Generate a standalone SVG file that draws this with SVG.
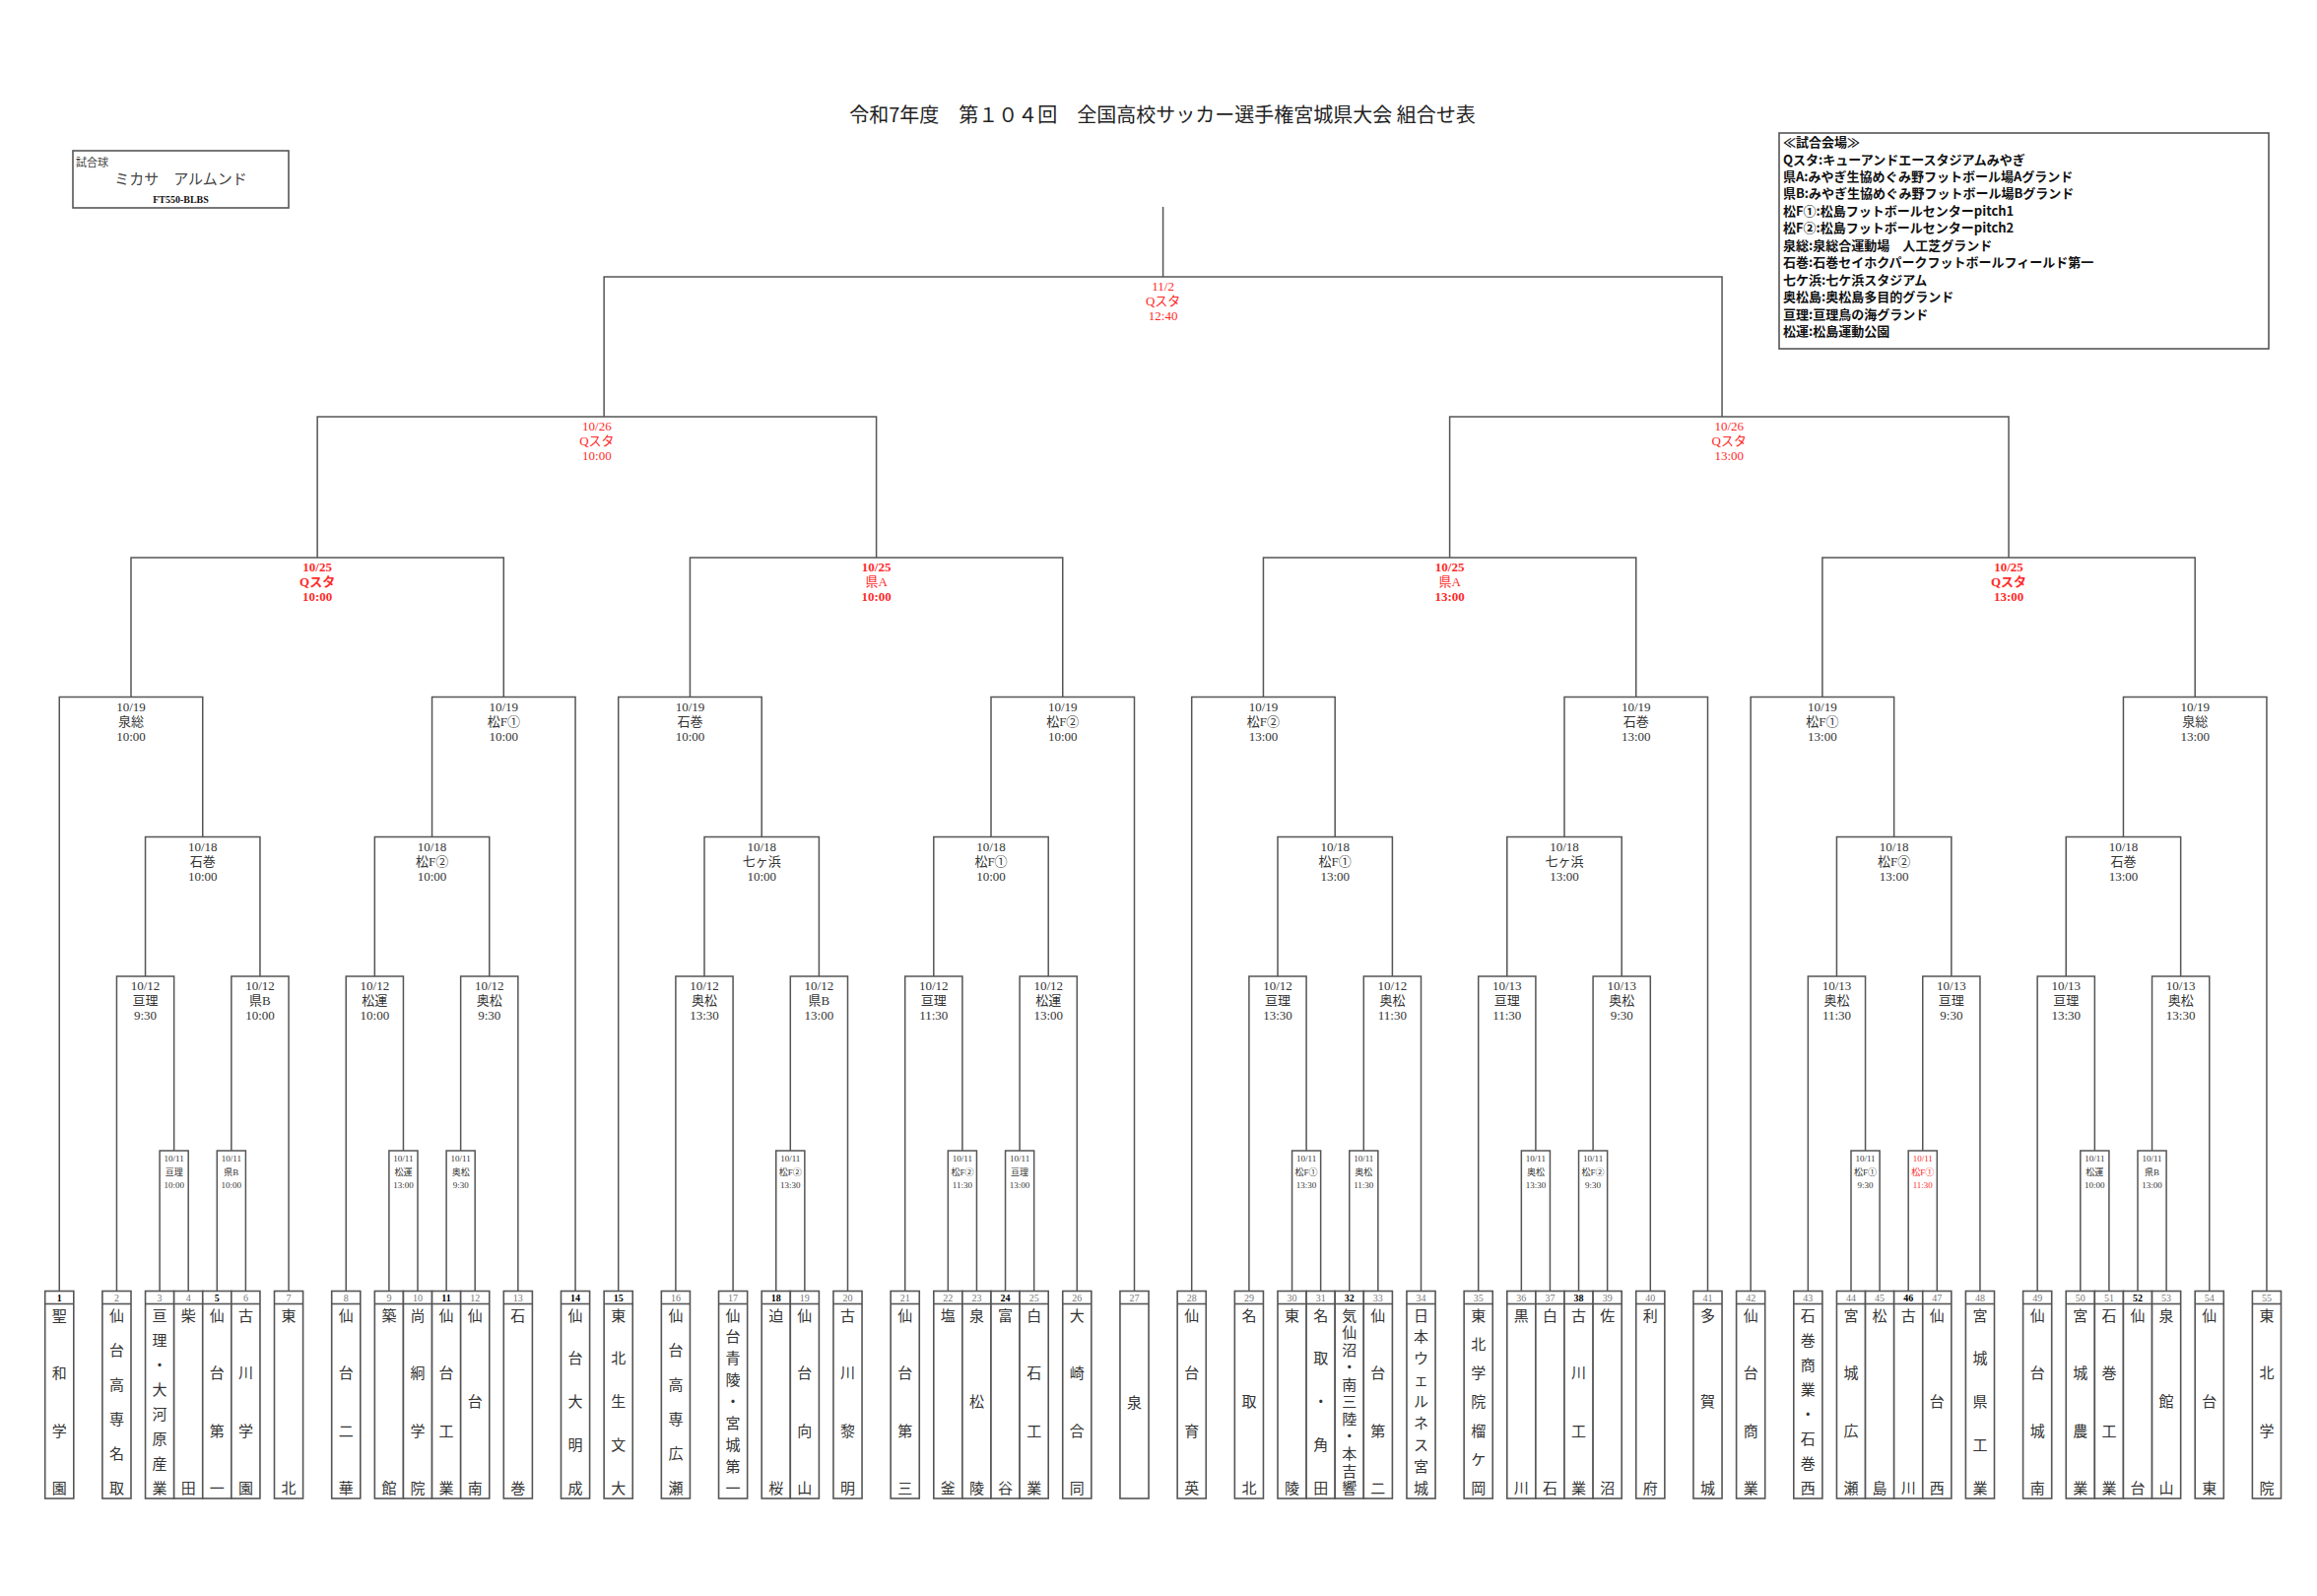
<svg xmlns="http://www.w3.org/2000/svg" xmlns:xlink="http://www.w3.org/1999/xlink" width="2352" height="1620" viewBox="0 0 2352 1620">
<style>
.ln{fill:none;stroke:#555;stroke-width:1.5}
.bx{fill:#fff;stroke:#555;stroke-width:1.6}
.lb{font-family:"Liberation Serif","Noto Sans CJK JP",serif;font-size:13px;fill:#333;text-anchor:middle}
.sm{font-size:9px}
.red{fill:#ff2a2a}
.b{font-weight:bold}
.tn{font-family:"Noto Sans CJK JP",sans-serif;font-size:15px;fill:#333;text-anchor:middle}
.num{font-family:"Liberation Serif",serif;font-size:10px;fill:#777;text-anchor:middle}
.nb{font-weight:bold;fill:#000}
.lg{font-family:"Noto Sans CJK JP",sans-serif;font-size:13px;font-weight:bold;fill:#111}
</style>
<defs>
<g id="tb"><rect x="0" y="1310.5" width="29.1" height="210.5" class="bx"/><line x1="0" y1="1323.5" x2="29.1" y2="1323.5" class="bx"/></g>
</defs>
<rect width="2352" height="1620" fill="#fff"/>
<g id="title"><text x="1180" y="124" style="font-family:'Noto Sans CJK JP',sans-serif;font-size:20px;fill:#222;text-anchor:middle">令和7年度　第１０４回　全国高校サッカー選手権宮城県大会 組合せ表</text></g>
<g id="ball">
<rect x="74" y="153" width="219" height="58" fill="#fff" stroke="#555" stroke-width="1.6"/>
<text x="77" y="169" style="font-family:'Noto Sans CJK JP',sans-serif;font-size:11px;fill:#444">試合球</text>
<text x="183.5" y="187" style="font-family:'Noto Sans CJK JP',sans-serif;font-size:15px;fill:#444;text-anchor:middle">ミカサ　アルムンド</text>
<text x="183.5" y="206" style="font-family:'Liberation Serif',serif;font-size:10px;font-weight:bold;fill:#111;text-anchor:middle">FT550-BLBS</text>
</g>
<g id="venues">
<rect x="1806" y="135" width="497" height="219" fill="#fff" stroke="#555" stroke-width="1.6"/>
<text class="lg" x="1810" y="149">≪試合会場≫</text>
<text class="lg" x="1810" y="166.5">Qスタ:キューアンドエースタジアムみやぎ</text>
<text class="lg" x="1810" y="184">県A:みやぎ生協めぐみ野フットボール場Aグランド</text>
<text class="lg" x="1810" y="201.4">県B:みやぎ生協めぐみ野フットボール場Bグランド</text>
<text class="lg" x="1810" y="218.9">松F①:松島フットボールセンターpitch1</text>
<text class="lg" x="1810" y="236.3">松F②:松島フットボールセンターpitch2</text>
<text class="lg" x="1810" y="253.8">泉総:泉総合運動場　人工芝グランド</text>
<text class="lg" x="1810" y="271.2">石巻:石巻セイホクパークフットボールフィールド第一</text>
<text class="lg" x="1810" y="288.7">七ケ浜:七ケ浜スタジアム</text>
<text class="lg" x="1810" y="306.1">奥松島:奥松島多目的グランド</text>
<text class="lg" x="1810" y="323.6">亘理:亘理鳥の海グランド</text>
<text class="lg" x="1810" y="341">松運:松島運動公園</text>
</g>
<g id="connectors" class="ln">
<path d="M1180.6 281V210"/>
<path d="M613.15 423V281H1748.05V423"/>
<path d="M322.15 566V423H889.6V566"/>
<path d="M1471.6 566V423H2039.05V566"/>
<path d="M133 707.5V566H511.3V707.5"/>
<path d="M700.45 707.5V566H1078.75V707.5"/>
<path d="M1282.45 707.5V566H1660.75V707.5"/>
<path d="M1849.9 707.5V566H2228.2V707.5"/>
<path d="M162.1 1310.5V1168H191.2V1310.5"/>
<path d="M220.3 1310.5V1168H249.4V1310.5"/>
<path d="M118.45 1310.5V991H176.65V1168"/>
<path d="M234.85 1168V991H293.05V1310.5"/>
<path d="M147.55 991V849.5H263.95V991"/>
<path d="M60.25 1310.5V707.5H205.75V849.5"/>
<path d="M394.9 1310.5V1168H424V1310.5"/>
<path d="M453.1 1310.5V1168H482.2V1310.5"/>
<path d="M351.25 1310.5V991H409.45V1168"/>
<path d="M467.65 1168V991H525.85V1310.5"/>
<path d="M380.35 991V849.5H496.75V991"/>
<path d="M438.55 849.5V707.5H584.05V1310.5"/>
<path d="M787.75 1310.5V1168H816.85V1310.5"/>
<path d="M685.9 1310.5V991H744.1V1310.5"/>
<path d="M802.3 1168V991H860.5V1310.5"/>
<path d="M715 991V849.5H831.4V991"/>
<path d="M627.7 1310.5V707.5H773.2V849.5"/>
<path d="M962.35 1310.5V1168H991.45V1310.5"/>
<path d="M1020.55 1310.5V1168H1049.65V1310.5"/>
<path d="M918.7 1310.5V991H976.9V1168"/>
<path d="M1035.1 1168V991H1093.3V1310.5"/>
<path d="M947.8 991V849.5H1064.2V991"/>
<path d="M1006 849.5V707.5H1151.5V1310.5"/>
<path d="M1311.55 1310.5V1168H1340.65V1310.5"/>
<path d="M1369.75 1310.5V1168H1398.85V1310.5"/>
<path d="M1267.9 1310.5V991H1326.1V1168"/>
<path d="M1384.3 1168V991H1442.5V1310.5"/>
<path d="M1297 991V849.5H1413.4V991"/>
<path d="M1209.7 1310.5V707.5H1355.2V849.5"/>
<path d="M1544.35 1310.5V1168H1573.45V1310.5"/>
<path d="M1602.55 1310.5V1168H1631.65V1310.5"/>
<path d="M1500.7 1310.5V991H1558.9V1168"/>
<path d="M1617.1 1168V991H1675.3V1310.5"/>
<path d="M1529.8 991V849.5H1646.2V991"/>
<path d="M1588 849.5V707.5H1733.5V1310.5"/>
<path d="M1879 1310.5V1168H1908.1V1310.5"/>
<path d="M1937.2 1310.5V1168H1966.3V1310.5"/>
<path d="M1835.35 1310.5V991H1893.55V1168"/>
<path d="M1951.75 1168V991H2009.95V1310.5"/>
<path d="M1864.45 991V849.5H1980.85V991"/>
<path d="M1777.15 1310.5V707.5H1922.65V849.5"/>
<path d="M2111.8 1310.5V1168H2140.9V1310.5"/>
<path d="M2170 1310.5V1168H2199.1V1310.5"/>
<path d="M2068.15 1310.5V991H2126.35V1168"/>
<path d="M2184.55 1168V991H2242.75V1310.5"/>
<path d="M2097.25 991V849.5H2213.65V991"/>
<path d="M2155.45 849.5V707.5H2300.95V1310.5"/>
</g>
<g id="m-final" class="lb red"><text x="1180.6" y="295">11/2</text><text x="1180.6" y="310">Qスタ</text><text x="1180.6" y="325">12:40</text></g>
<g id="m-sf1" class="lb red"><text x="605.9" y="437">10/26</text><text x="605.9" y="452">Qスタ</text><text x="605.9" y="467">10:00</text></g>
<g id="m-sf2" class="lb red"><text x="1755.3" y="437">10/26</text><text x="1755.3" y="452">Qスタ</text><text x="1755.3" y="467">13:00</text></g>
<g id="m-qf1" class="lb red b"><text x="322.15" y="580">10/25</text><text x="322.15" y="595">Qスタ</text><text x="322.15" y="610">10:00</text></g>
<g id="m-qf2" class="lb red"><text class="b" x="889.6" y="580">10/25</text><text x="889.6" y="595">県A</text><text class="b" x="889.6" y="610">10:00</text></g>
<g id="m-qf3" class="lb red"><text class="b" x="1471.6" y="580">10/25</text><text x="1471.6" y="595">県A</text><text class="b" x="1471.6" y="610">13:00</text></g>
<g id="m-qf4" class="lb red b"><text x="2039.05" y="580">10/25</text><text x="2039.05" y="595">Qスタ</text><text x="2039.05" y="610">13:00</text></g>
<g id="m-r16" class="lb">
<text x="133" y="721.5">10/19</text><text x="133" y="736.5">泉総</text><text x="133" y="751.5">10:00</text>
<text x="511.3" y="721.5">10/19</text><text x="511.3" y="736.5">松F①</text><text x="511.3" y="751.5">10:00</text>
<text x="700.45" y="721.5">10/19</text><text x="700.45" y="736.5">石巻</text><text x="700.45" y="751.5">10:00</text>
<text x="1078.75" y="721.5">10/19</text><text x="1078.75" y="736.5">松F②</text><text x="1078.75" y="751.5">10:00</text>
<text x="1282.45" y="721.5">10/19</text><text x="1282.45" y="736.5">松F②</text><text x="1282.45" y="751.5">13:00</text>
<text x="1660.75" y="721.5">10/19</text><text x="1660.75" y="736.5">石巻</text><text x="1660.75" y="751.5">13:00</text>
<text x="1849.9" y="721.5">10/19</text><text x="1849.9" y="736.5">松F①</text><text x="1849.9" y="751.5">13:00</text>
<text x="2228.2" y="721.5">10/19</text><text x="2228.2" y="736.5">泉総</text><text x="2228.2" y="751.5">13:00</text>
</g>
<g id="m-r32" class="lb">
<text x="205.75" y="863.5">10/18</text><text x="205.75" y="878.5">石巻</text><text x="205.75" y="893.5">10:00</text>
<text x="438.55" y="863.5">10/18</text><text x="438.55" y="878.5">松F②</text><text x="438.55" y="893.5">10:00</text>
<text x="773.2" y="863.5">10/18</text><text x="773.2" y="878.5">七ヶ浜</text><text x="773.2" y="893.5">10:00</text>
<text x="1006" y="863.5">10/18</text><text x="1006" y="878.5">松F①</text><text x="1006" y="893.5">10:00</text>
<text x="1355.2" y="863.5">10/18</text><text x="1355.2" y="878.5">松F①</text><text x="1355.2" y="893.5">13:00</text>
<text x="1588" y="863.5">10/18</text><text x="1588" y="878.5">七ヶ浜</text><text x="1588" y="893.5">13:00</text>
<text x="1922.65" y="863.5">10/18</text><text x="1922.65" y="878.5">松F②</text><text x="1922.65" y="893.5">13:00</text>
<text x="2155.45" y="863.5">10/18</text><text x="2155.45" y="878.5">石巻</text><text x="2155.45" y="893.5">13:00</text>
</g>
<g id="m-r2" class="lb">
<text x="147.55" y="1005">10/12</text><text x="147.55" y="1020">亘理</text><text x="147.55" y="1035">9:30</text>
<text x="263.95" y="1005">10/12</text><text x="263.95" y="1020">県B</text><text x="263.95" y="1035">10:00</text>
<text x="380.35" y="1005">10/12</text><text x="380.35" y="1020">松運</text><text x="380.35" y="1035">10:00</text>
<text x="496.75" y="1005">10/12</text><text x="496.75" y="1020">奥松</text><text x="496.75" y="1035">9:30</text>
<text x="715" y="1005">10/12</text><text x="715" y="1020">奥松</text><text x="715" y="1035">13:30</text>
<text x="831.4" y="1005">10/12</text><text x="831.4" y="1020">県B</text><text x="831.4" y="1035">13:00</text>
<text x="947.8" y="1005">10/12</text><text x="947.8" y="1020">亘理</text><text x="947.8" y="1035">11:30</text>
<text x="1064.2" y="1005">10/12</text><text x="1064.2" y="1020">松運</text><text x="1064.2" y="1035">13:00</text>
<text x="1297" y="1005">10/12</text><text x="1297" y="1020">亘理</text><text x="1297" y="1035">13:30</text>
<text x="1413.4" y="1005">10/12</text><text x="1413.4" y="1020">奥松</text><text x="1413.4" y="1035">11:30</text>
<text x="1529.8" y="1005">10/13</text><text x="1529.8" y="1020">亘理</text><text x="1529.8" y="1035">11:30</text>
<text x="1646.2" y="1005">10/13</text><text x="1646.2" y="1020">奥松</text><text x="1646.2" y="1035">9:30</text>
<text x="1864.45" y="1005">10/13</text><text x="1864.45" y="1020">奥松</text><text x="1864.45" y="1035">11:30</text>
<text x="1980.85" y="1005">10/13</text><text x="1980.85" y="1020">亘理</text><text x="1980.85" y="1035">9:30</text>
<text x="2097.25" y="1005">10/13</text><text x="2097.25" y="1020">亘理</text><text x="2097.25" y="1035">13:30</text>
<text x="2213.65" y="1005">10/13</text><text x="2213.65" y="1020">奥松</text><text x="2213.65" y="1035">13:30</text>
</g>
<g id="m-r1" class="lb sm">
<text x="176.65" y="1179">10/11</text><text x="176.65" y="1192.5">亘理</text><text x="176.65" y="1205.5">10:00</text>
<text x="234.85" y="1179">10/11</text><text x="234.85" y="1192.5">県B</text><text x="234.85" y="1205.5">10:00</text>
<text x="409.45" y="1179">10/11</text><text x="409.45" y="1192.5">松運</text><text x="409.45" y="1205.5">13:00</text>
<text x="467.65" y="1179">10/11</text><text x="467.65" y="1192.5">奥松</text><text x="467.65" y="1205.5">9:30</text>
<text x="802.3" y="1179">10/11</text><text x="802.3" y="1192.5">松F②</text><text x="802.3" y="1205.5">13:30</text>
<text x="976.9" y="1179">10/11</text><text x="976.9" y="1192.5">松F②</text><text x="976.9" y="1205.5">11:30</text>
<text x="1035.1" y="1179">10/11</text><text x="1035.1" y="1192.5">亘理</text><text x="1035.1" y="1205.5">13:00</text>
<text x="1326.1" y="1179">10/11</text><text x="1326.1" y="1192.5">松F①</text><text x="1326.1" y="1205.5">13:30</text>
<text x="1384.3" y="1179">10/11</text><text x="1384.3" y="1192.5">奥松</text><text x="1384.3" y="1205.5">11:30</text>
<text x="1558.9" y="1179">10/11</text><text x="1558.9" y="1192.5">奥松</text><text x="1558.9" y="1205.5">13:30</text>
<text x="1617.1" y="1179">10/11</text><text x="1617.1" y="1192.5">松F②</text><text x="1617.1" y="1205.5">9:30</text>
<text x="1893.55" y="1179">10/11</text><text x="1893.55" y="1192.5">松F①</text><text x="1893.55" y="1205.5">9:30</text>
<text class="red" x="1951.75" y="1179">10/11</text><text class="red" x="1951.75" y="1192.5">松F①</text><text class="red" x="1951.75" y="1205.5">11:30</text>
<text x="2126.35" y="1179">10/11</text><text x="2126.35" y="1192.5">松運</text><text x="2126.35" y="1205.5">10:00</text>
<text x="2184.55" y="1179">10/11</text><text x="2184.55" y="1192.5">県B</text><text x="2184.55" y="1205.5">13:00</text>
</g>
<g id="team-1"><use href="#tb" x="45.7"/><text class="num nb" x="60.25" y="1320.5">1</text><text class="tn"><tspan x="60.25" y="1340.5">聖</tspan><tspan x="60.25" y="1399.07">和</tspan><tspan x="60.25" y="1457.63">学</tspan><tspan x="60.25" y="1516.2">園</tspan></text></g>
<g id="team-2"><use href="#tb" x="103.9"/><text class="num" x="118.45" y="1320.5">2</text><text class="tn"><tspan x="118.45" y="1340.5">仙</tspan><tspan x="118.45" y="1375.64">台</tspan><tspan x="118.45" y="1410.78">高</tspan><tspan x="118.45" y="1445.92">専</tspan><tspan x="118.45" y="1481.06">名</tspan><tspan x="118.45" y="1516.2">取</tspan></text></g>
<g id="team-3"><use href="#tb" x="147.55"/><text class="num" x="162.1" y="1320.5">3</text><text class="tn"><tspan x="162.1" y="1340.5">亘</tspan><tspan x="162.1" y="1365.6">理</tspan><tspan x="162.1" y="1390.7">・</tspan><tspan x="162.1" y="1415.8">大</tspan><tspan x="162.1" y="1440.9">河</tspan><tspan x="162.1" y="1466">原</tspan><tspan x="162.1" y="1491.1">産</tspan><tspan x="162.1" y="1516.2">業</tspan></text></g>
<g id="team-4"><use href="#tb" x="176.65"/><text class="num" x="191.2" y="1320.5">4</text><text class="tn"><tspan x="191.2" y="1340.5">柴</tspan><tspan x="191.2" y="1516.2">田</tspan></text></g>
<g id="team-5"><use href="#tb" x="205.75"/><text class="num nb" x="220.3" y="1320.5">5</text><text class="tn"><tspan x="220.3" y="1340.5">仙</tspan><tspan x="220.3" y="1399.07">台</tspan><tspan x="220.3" y="1457.63">第</tspan><tspan x="220.3" y="1516.2">一</tspan></text></g>
<g id="team-6"><use href="#tb" x="234.85"/><text class="num" x="249.4" y="1320.5">6</text><text class="tn"><tspan x="249.4" y="1340.5">古</tspan><tspan x="249.4" y="1399.07">川</tspan><tspan x="249.4" y="1457.63">学</tspan><tspan x="249.4" y="1516.2">園</tspan></text></g>
<g id="team-7"><use href="#tb" x="278.5"/><text class="num" x="293.05" y="1320.5">7</text><text class="tn"><tspan x="293.05" y="1340.5">東</tspan><tspan x="293.05" y="1516.2">北</tspan></text></g>
<g id="team-8"><use href="#tb" x="336.7"/><text class="num" x="351.25" y="1320.5">8</text><text class="tn"><tspan x="351.25" y="1340.5">仙</tspan><tspan x="351.25" y="1399.07">台</tspan><tspan x="351.25" y="1457.63">二</tspan><tspan x="351.25" y="1516.2">華</tspan></text></g>
<g id="team-9"><use href="#tb" x="380.35"/><text class="num" x="394.9" y="1320.5">9</text><text class="tn"><tspan x="394.9" y="1340.5">築</tspan><tspan x="394.9" y="1516.2">館</tspan></text></g>
<g id="team-10"><use href="#tb" x="409.45"/><text class="num" x="424" y="1320.5">10</text><text class="tn"><tspan x="424" y="1340.5">尚</tspan><tspan x="424" y="1399.07">絅</tspan><tspan x="424" y="1457.63">学</tspan><tspan x="424" y="1516.2">院</tspan></text></g>
<g id="team-11"><use href="#tb" x="438.55"/><text class="num nb" x="453.1" y="1320.5">11</text><text class="tn"><tspan x="453.1" y="1340.5">仙</tspan><tspan x="453.1" y="1399.07">台</tspan><tspan x="453.1" y="1457.63">工</tspan><tspan x="453.1" y="1516.2">業</tspan></text></g>
<g id="team-12"><use href="#tb" x="467.65"/><text class="num" x="482.2" y="1320.5">12</text><text class="tn"><tspan x="482.2" y="1340.5">仙</tspan><tspan x="482.2" y="1428.35">台</tspan><tspan x="482.2" y="1516.2">南</tspan></text></g>
<g id="team-13"><use href="#tb" x="511.3"/><text class="num" x="525.85" y="1320.5">13</text><text class="tn"><tspan x="525.85" y="1340.5">石</tspan><tspan x="525.85" y="1516.2">巻</tspan></text></g>
<g id="team-14"><use href="#tb" x="569.5"/><text class="num nb" x="584.05" y="1320.5">14</text><text class="tn"><tspan x="584.05" y="1340.5">仙</tspan><tspan x="584.05" y="1384.43">台</tspan><tspan x="584.05" y="1428.35">大</tspan><tspan x="584.05" y="1472.28">明</tspan><tspan x="584.05" y="1516.2">成</tspan></text></g>
<g id="team-15"><use href="#tb" x="613.15"/><text class="num nb" x="627.7" y="1320.5">15</text><text class="tn"><tspan x="627.7" y="1340.5">東</tspan><tspan x="627.7" y="1384.43">北</tspan><tspan x="627.7" y="1428.35">生</tspan><tspan x="627.7" y="1472.28">文</tspan><tspan x="627.7" y="1516.2">大</tspan></text></g>
<g id="team-16"><use href="#tb" x="671.35"/><text class="num" x="685.9" y="1320.5">16</text><text class="tn"><tspan x="685.9" y="1340.5">仙</tspan><tspan x="685.9" y="1375.64">台</tspan><tspan x="685.9" y="1410.78">高</tspan><tspan x="685.9" y="1445.92">専</tspan><tspan x="685.9" y="1481.06">広</tspan><tspan x="685.9" y="1516.2">瀬</tspan></text></g>
<g id="team-17"><use href="#tb" x="729.55"/><text class="num" x="744.1" y="1320.5">17</text><text class="tn"><tspan x="744.1" y="1340.5">仙</tspan><tspan x="744.1" y="1362.46">台</tspan><tspan x="744.1" y="1384.43">青</tspan><tspan x="744.1" y="1406.39">陵</tspan><tspan x="744.1" y="1428.35">・</tspan><tspan x="744.1" y="1450.31">宮</tspan><tspan x="744.1" y="1472.28">城</tspan><tspan x="744.1" y="1494.24">第</tspan><tspan x="744.1" y="1516.2">一</tspan></text></g>
<g id="team-18"><use href="#tb" x="773.2"/><text class="num nb" x="787.75" y="1320.5">18</text><text class="tn"><tspan x="787.75" y="1340.5">迫</tspan><tspan x="787.75" y="1516.2">桜</tspan></text></g>
<g id="team-19"><use href="#tb" x="802.3"/><text class="num" x="816.85" y="1320.5">19</text><text class="tn"><tspan x="816.85" y="1340.5">仙</tspan><tspan x="816.85" y="1399.07">台</tspan><tspan x="816.85" y="1457.63">向</tspan><tspan x="816.85" y="1516.2">山</tspan></text></g>
<g id="team-20"><use href="#tb" x="845.95"/><text class="num" x="860.5" y="1320.5">20</text><text class="tn"><tspan x="860.5" y="1340.5">古</tspan><tspan x="860.5" y="1399.07">川</tspan><tspan x="860.5" y="1457.63">黎</tspan><tspan x="860.5" y="1516.2">明</tspan></text></g>
<g id="team-21"><use href="#tb" x="904.15"/><text class="num" x="918.7" y="1320.5">21</text><text class="tn"><tspan x="918.7" y="1340.5">仙</tspan><tspan x="918.7" y="1399.07">台</tspan><tspan x="918.7" y="1457.63">第</tspan><tspan x="918.7" y="1516.2">三</tspan></text></g>
<g id="team-22"><use href="#tb" x="947.8"/><text class="num" x="962.35" y="1320.5">22</text><text class="tn"><tspan x="962.35" y="1340.5">塩</tspan><tspan x="962.35" y="1516.2">釜</tspan></text></g>
<g id="team-23"><use href="#tb" x="976.9"/><text class="num" x="991.45" y="1320.5">23</text><text class="tn"><tspan x="991.45" y="1340.5">泉</tspan><tspan x="991.45" y="1428.35">松</tspan><tspan x="991.45" y="1516.2">陵</tspan></text></g>
<g id="team-24"><use href="#tb" x="1006"/><text class="num nb" x="1020.55" y="1320.5">24</text><text class="tn"><tspan x="1020.55" y="1340.5">富</tspan><tspan x="1020.55" y="1516.2">谷</tspan></text></g>
<g id="team-25"><use href="#tb" x="1035.1"/><text class="num" x="1049.65" y="1320.5">25</text><text class="tn"><tspan x="1049.65" y="1340.5">白</tspan><tspan x="1049.65" y="1399.07">石</tspan><tspan x="1049.65" y="1457.63">工</tspan><tspan x="1049.65" y="1516.2">業</tspan></text></g>
<g id="team-26"><use href="#tb" x="1078.75"/><text class="num" x="1093.3" y="1320.5">26</text><text class="tn"><tspan x="1093.3" y="1340.5">大</tspan><tspan x="1093.3" y="1399.07">崎</tspan><tspan x="1093.3" y="1457.63">合</tspan><tspan x="1093.3" y="1516.2">同</tspan></text></g>
<g id="team-27"><use href="#tb" x="1136.95"/><text class="num" x="1151.5" y="1320.5">27</text><text class="tn"><tspan x="1151.5" y="1428.5">泉</tspan></text></g>
<g id="team-28"><use href="#tb" x="1195.15"/><text class="num" x="1209.7" y="1320.5">28</text><text class="tn"><tspan x="1209.7" y="1340.5">仙</tspan><tspan x="1209.7" y="1399.07">台</tspan><tspan x="1209.7" y="1457.63">育</tspan><tspan x="1209.7" y="1516.2">英</tspan></text></g>
<g id="team-29"><use href="#tb" x="1253.35"/><text class="num" x="1267.9" y="1320.5">29</text><text class="tn"><tspan x="1267.9" y="1340.5">名</tspan><tspan x="1267.9" y="1428.35">取</tspan><tspan x="1267.9" y="1516.2">北</tspan></text></g>
<g id="team-30"><use href="#tb" x="1297"/><text class="num" x="1311.55" y="1320.5">30</text><text class="tn"><tspan x="1311.55" y="1340.5">東</tspan><tspan x="1311.55" y="1516.2">陵</tspan></text></g>
<g id="team-31"><use href="#tb" x="1326.1"/><text class="num" x="1340.65" y="1320.5">31</text><text class="tn"><tspan x="1340.65" y="1340.5">名</tspan><tspan x="1340.65" y="1384.43">取</tspan><tspan x="1340.65" y="1428.35">・</tspan><tspan x="1340.65" y="1472.28">角</tspan><tspan x="1340.65" y="1516.2">田</tspan></text></g>
<g id="team-32"><use href="#tb" x="1355.2"/><text class="num nb" x="1369.75" y="1320.5">32</text><text class="tn"><tspan x="1369.75" y="1340.5">気</tspan><tspan x="1369.75" y="1358.07">仙</tspan><tspan x="1369.75" y="1375.64">沼</tspan><tspan x="1369.75" y="1393.21">・</tspan><tspan x="1369.75" y="1410.78">南</tspan><tspan x="1369.75" y="1428.35">三</tspan><tspan x="1369.75" y="1445.92">陸</tspan><tspan x="1369.75" y="1463.49">・</tspan><tspan x="1369.75" y="1481.06">本</tspan><tspan x="1369.75" y="1498.63">吉</tspan><tspan x="1369.75" y="1516.2">響</tspan></text></g>
<g id="team-33"><use href="#tb" x="1384.3"/><text class="num" x="1398.85" y="1320.5">33</text><text class="tn"><tspan x="1398.85" y="1340.5">仙</tspan><tspan x="1398.85" y="1399.07">台</tspan><tspan x="1398.85" y="1457.63">第</tspan><tspan x="1398.85" y="1516.2">二</tspan></text></g>
<g id="team-34"><use href="#tb" x="1427.95"/><text class="num" x="1442.5" y="1320.5">34</text><text class="tn"><tspan x="1442.5" y="1340.5">日</tspan><tspan x="1442.5" y="1362.46">本</tspan><tspan x="1442.5" y="1384.43">ウ</tspan><tspan x="1442.5" y="1406.39">ェ</tspan><tspan x="1442.5" y="1428.35">ル</tspan><tspan x="1442.5" y="1450.31">ネ</tspan><tspan x="1442.5" y="1472.28">ス</tspan><tspan x="1442.5" y="1494.24">宮</tspan><tspan x="1442.5" y="1516.2">城</tspan></text></g>
<g id="team-35"><use href="#tb" x="1486.15"/><text class="num" x="1500.7" y="1320.5">35</text><text class="tn"><tspan x="1500.7" y="1340.5">東</tspan><tspan x="1500.7" y="1369.78">北</tspan><tspan x="1500.7" y="1399.07">学</tspan><tspan x="1500.7" y="1428.35">院</tspan><tspan x="1500.7" y="1457.63">榴</tspan><tspan x="1500.7" y="1486.92">ケ</tspan><tspan x="1500.7" y="1516.2">岡</tspan></text></g>
<g id="team-36"><use href="#tb" x="1529.8"/><text class="num" x="1544.35" y="1320.5">36</text><text class="tn"><tspan x="1544.35" y="1340.5">黒</tspan><tspan x="1544.35" y="1516.2">川</tspan></text></g>
<g id="team-37"><use href="#tb" x="1558.9"/><text class="num" x="1573.45" y="1320.5">37</text><text class="tn"><tspan x="1573.45" y="1340.5">白</tspan><tspan x="1573.45" y="1516.2">石</tspan></text></g>
<g id="team-38"><use href="#tb" x="1588"/><text class="num nb" x="1602.55" y="1320.5">38</text><text class="tn"><tspan x="1602.55" y="1340.5">古</tspan><tspan x="1602.55" y="1399.07">川</tspan><tspan x="1602.55" y="1457.63">工</tspan><tspan x="1602.55" y="1516.2">業</tspan></text></g>
<g id="team-39"><use href="#tb" x="1617.1"/><text class="num" x="1631.65" y="1320.5">39</text><text class="tn"><tspan x="1631.65" y="1340.5">佐</tspan><tspan x="1631.65" y="1516.2">沼</tspan></text></g>
<g id="team-40"><use href="#tb" x="1660.75"/><text class="num" x="1675.3" y="1320.5">40</text><text class="tn"><tspan x="1675.3" y="1340.5">利</tspan><tspan x="1675.3" y="1516.2">府</tspan></text></g>
<g id="team-41"><use href="#tb" x="1718.95"/><text class="num" x="1733.5" y="1320.5">41</text><text class="tn"><tspan x="1733.5" y="1340.5">多</tspan><tspan x="1733.5" y="1428.35">賀</tspan><tspan x="1733.5" y="1516.2">城</tspan></text></g>
<g id="team-42"><use href="#tb" x="1762.6"/><text class="num" x="1777.15" y="1320.5">42</text><text class="tn"><tspan x="1777.15" y="1340.5">仙</tspan><tspan x="1777.15" y="1399.07">台</tspan><tspan x="1777.15" y="1457.63">商</tspan><tspan x="1777.15" y="1516.2">業</tspan></text></g>
<g id="team-43"><use href="#tb" x="1820.8"/><text class="num" x="1835.35" y="1320.5">43</text><text class="tn"><tspan x="1835.35" y="1340.5">石</tspan><tspan x="1835.35" y="1365.6">巻</tspan><tspan x="1835.35" y="1390.7">商</tspan><tspan x="1835.35" y="1415.8">業</tspan><tspan x="1835.35" y="1440.9">・</tspan><tspan x="1835.35" y="1466">石</tspan><tspan x="1835.35" y="1491.1">巻</tspan><tspan x="1835.35" y="1516.2">西</tspan></text></g>
<g id="team-44"><use href="#tb" x="1864.45"/><text class="num" x="1879" y="1320.5">44</text><text class="tn"><tspan x="1879" y="1340.5">宮</tspan><tspan x="1879" y="1399.07">城</tspan><tspan x="1879" y="1457.63">広</tspan><tspan x="1879" y="1516.2">瀬</tspan></text></g>
<g id="team-45"><use href="#tb" x="1893.55"/><text class="num" x="1908.1" y="1320.5">45</text><text class="tn"><tspan x="1908.1" y="1340.5">松</tspan><tspan x="1908.1" y="1516.2">島</tspan></text></g>
<g id="team-46"><use href="#tb" x="1922.65"/><text class="num nb" x="1937.2" y="1320.5">46</text><text class="tn"><tspan x="1937.2" y="1340.5">古</tspan><tspan x="1937.2" y="1516.2">川</tspan></text></g>
<g id="team-47"><use href="#tb" x="1951.75"/><text class="num" x="1966.3" y="1320.5">47</text><text class="tn"><tspan x="1966.3" y="1340.5">仙</tspan><tspan x="1966.3" y="1428.35">台</tspan><tspan x="1966.3" y="1516.2">西</tspan></text></g>
<g id="team-48"><use href="#tb" x="1995.4"/><text class="num" x="2009.95" y="1320.5">48</text><text class="tn"><tspan x="2009.95" y="1340.5">宮</tspan><tspan x="2009.95" y="1384.43">城</tspan><tspan x="2009.95" y="1428.35">県</tspan><tspan x="2009.95" y="1472.28">工</tspan><tspan x="2009.95" y="1516.2">業</tspan></text></g>
<g id="team-49"><use href="#tb" x="2053.6"/><text class="num" x="2068.15" y="1320.5">49</text><text class="tn"><tspan x="2068.15" y="1340.5">仙</tspan><tspan x="2068.15" y="1399.07">台</tspan><tspan x="2068.15" y="1457.63">城</tspan><tspan x="2068.15" y="1516.2">南</tspan></text></g>
<g id="team-50"><use href="#tb" x="2097.25"/><text class="num" x="2111.8" y="1320.5">50</text><text class="tn"><tspan x="2111.8" y="1340.5">宮</tspan><tspan x="2111.8" y="1399.07">城</tspan><tspan x="2111.8" y="1457.63">農</tspan><tspan x="2111.8" y="1516.2">業</tspan></text></g>
<g id="team-51"><use href="#tb" x="2126.35"/><text class="num" x="2140.9" y="1320.5">51</text><text class="tn"><tspan x="2140.9" y="1340.5">石</tspan><tspan x="2140.9" y="1399.07">巻</tspan><tspan x="2140.9" y="1457.63">工</tspan><tspan x="2140.9" y="1516.2">業</tspan></text></g>
<g id="team-52"><use href="#tb" x="2155.45"/><text class="num nb" x="2170" y="1320.5">52</text><text class="tn"><tspan x="2170" y="1340.5">仙</tspan><tspan x="2170" y="1516.2">台</tspan></text></g>
<g id="team-53"><use href="#tb" x="2184.55"/><text class="num" x="2199.1" y="1320.5">53</text><text class="tn"><tspan x="2199.1" y="1340.5">泉</tspan><tspan x="2199.1" y="1428.35">館</tspan><tspan x="2199.1" y="1516.2">山</tspan></text></g>
<g id="team-54"><use href="#tb" x="2228.2"/><text class="num" x="2242.75" y="1320.5">54</text><text class="tn"><tspan x="2242.75" y="1340.5">仙</tspan><tspan x="2242.75" y="1428.35">台</tspan><tspan x="2242.75" y="1516.2">東</tspan></text></g>
<g id="team-55"><use href="#tb" x="2286.4"/><text class="num" x="2300.95" y="1320.5">55</text><text class="tn"><tspan x="2300.95" y="1340.5">東</tspan><tspan x="2300.95" y="1399.07">北</tspan><tspan x="2300.95" y="1457.63">学</tspan><tspan x="2300.95" y="1516.2">院</tspan></text></g>
</svg>
